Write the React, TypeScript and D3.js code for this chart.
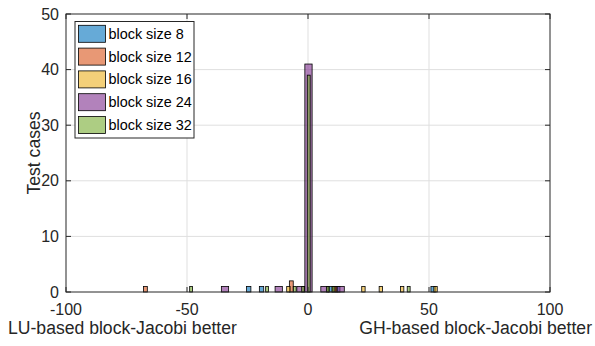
import React from 'react'
import * as d3 from 'd3'

// Histogram data: bin starts (x), counts, one bin width per series
const seriesNames = ['block size 8', 'block size 12', 'block size 16', 'block size 24', 'block size 32']
const seriesColors = ['#0072BD', '#D95319', '#EDB120', '#7E2F8E', '#77AC30']
const binWidths = [1.8, 1.6, 1.4, 3.0, 1.2]

const bs8Starts = [-25.4, -20.1, 8.4, 11.4, 50.8]
const bs8Counts = [1, 1, 1, 1, 1]
const bs12Starts = [-68.0, -7.7, 10.4]
const bs12Counts = [1, 2, 1]
const bs16Starts = [-8.8, 22.2, 29.4, 38.2, 52.0]
const bs16Counts = [1, 1, 1, 1, 1]
const bs24Starts = [-35.8, -13.6, -4.6, -1.3, 5.3, 12.0]
const bs24Counts = [1, 1, 1, 41, 1, 1]
const bs32Starts = [-48.9, -17.5, -6.1, -2.6, -0.3, 7.6, 9.9, 41.0]
const bs32Counts = [1, 1, 1, 1, 39, 1, 1, 1]

const xTicks = [-100, -50, 0, 50, 100]
const yTicks = [0, 10, 20, 30, 40, 50]

const W = 595
const H = 346
const plot = { left: 66, right: 550, top: 14, bottom: 292 }
const FONT = '"Liberation Sans", Arial, Helvetica, sans-serif'
const AXIS = '#262626'
const GRID = '#dfdfdf'

export default function App() {
  const x = d3.scaleLinear().domain([-100, 100]).range([plot.left, plot.right])
  const y = d3.scaleLinear().domain([0, 50]).range([plot.bottom, plot.top])

  const series = [
    { starts: bs8Starts, counts: bs8Counts },
    { starts: bs12Starts, counts: bs12Counts },
    { starts: bs16Starts, counts: bs16Counts },
    { starts: bs24Starts, counts: bs24Counts },
    { starts: bs32Starts, counts: bs32Counts },
  ]

  const tickLen = 5

  return (
    <svg width={W} height={H} style={{ position: 'absolute', left: 0, top: 0, background: '#fff' }}
      fontFamily={FONT}>
      <rect x={0} y={0} width={W} height={H} fill="#fff" />

      {/* grid */}
      {xTicks.slice(1, -1).map(t => (
        <line key={'gx' + t} x1={x(t)} x2={x(t)} y1={plot.top} y2={plot.bottom} stroke={GRID} strokeWidth={1} />
      ))}
      {yTicks.slice(1, -1).map(t => (
        <line key={'gy' + t} x1={plot.left} x2={plot.right} y1={y(t)} y2={y(t)} stroke={GRID} strokeWidth={1} />
      ))}

      {/* bars */}
      {series.map((s, si) => (
        <g key={si}>
          {s.starts.map((st, i) => (
            <rect key={i}
              x={x(st)} y={y(s.counts[i])}
              width={x(st + binWidths[si]) - x(st)}
              height={y(0) - y(s.counts[i])}
              fill={seriesColors[si]} fillOpacity={0.6}
              stroke="#000" strokeWidth={0.8} />
          ))}
        </g>
      ))}

      {/* axes box */}
      <rect x={plot.left} y={plot.top} width={plot.right - plot.left} height={plot.bottom - plot.top}
        fill="none" stroke={AXIS} strokeWidth={1} />

      {/* ticks */}
      {xTicks.map(t => (
        <g key={'tx' + t}>
          <line x1={x(t)} x2={x(t)} y1={plot.bottom} y2={plot.bottom - tickLen} stroke={AXIS} />
          <line x1={x(t)} x2={x(t)} y1={plot.top} y2={plot.top + tickLen} stroke={AXIS} />
          <text x={x(t)} y={plot.bottom + 23} textAnchor="middle" fontSize={16} fill={AXIS}>{t}</text>
        </g>
      ))}
      {yTicks.map(t => (
        <g key={'ty' + t}>
          <line x1={plot.left} x2={plot.left + tickLen} y1={y(t)} y2={y(t)} stroke={AXIS} />
          <line x1={plot.right} x2={plot.right - tickLen} y1={y(t)} y2={y(t)} stroke={AXIS} />
          <text x={plot.left - 7} y={y(t)} dy="0.35em" textAnchor="end" fontSize={16} fill={AXIS}>{t}</text>
        </g>
      ))}

      {/* axis labels */}
      <text transform={`translate(40,${(plot.top + plot.bottom) / 2}) rotate(-90)`} textAnchor="middle"
        fontSize={17.6} fill={AXIS}>Test cases</text>
      <text x={8} y={334} fontSize={17.6} fill={AXIS}>LU-based block-Jacobi better</text>
      <text x={592} y={334} textAnchor="end" fontSize={17.6} fill={AXIS}>GH-based block-Jacobi better</text>

      {/* legend */}
      <g>
        <rect x={75} y={21.5} width={119} height={116.5} fill="#fff" stroke={AXIS} strokeWidth={1} />
        {seriesNames.map((name, i) => {
          const cy = 33.8 + i * 22.8
          return (
            <g key={name}>
              <rect x={78.5} y={cy - 8.5} width={27} height={17} fill={seriesColors[i]} fillOpacity={0.6}
                stroke="#000" strokeWidth={0.8} />
              <text x={108.5} y={cy} dy="0.35em" fontSize={14.4} fill="#000">{name}</text>
            </g>
          )
        })}
      </g>
    </svg>
  )
}
